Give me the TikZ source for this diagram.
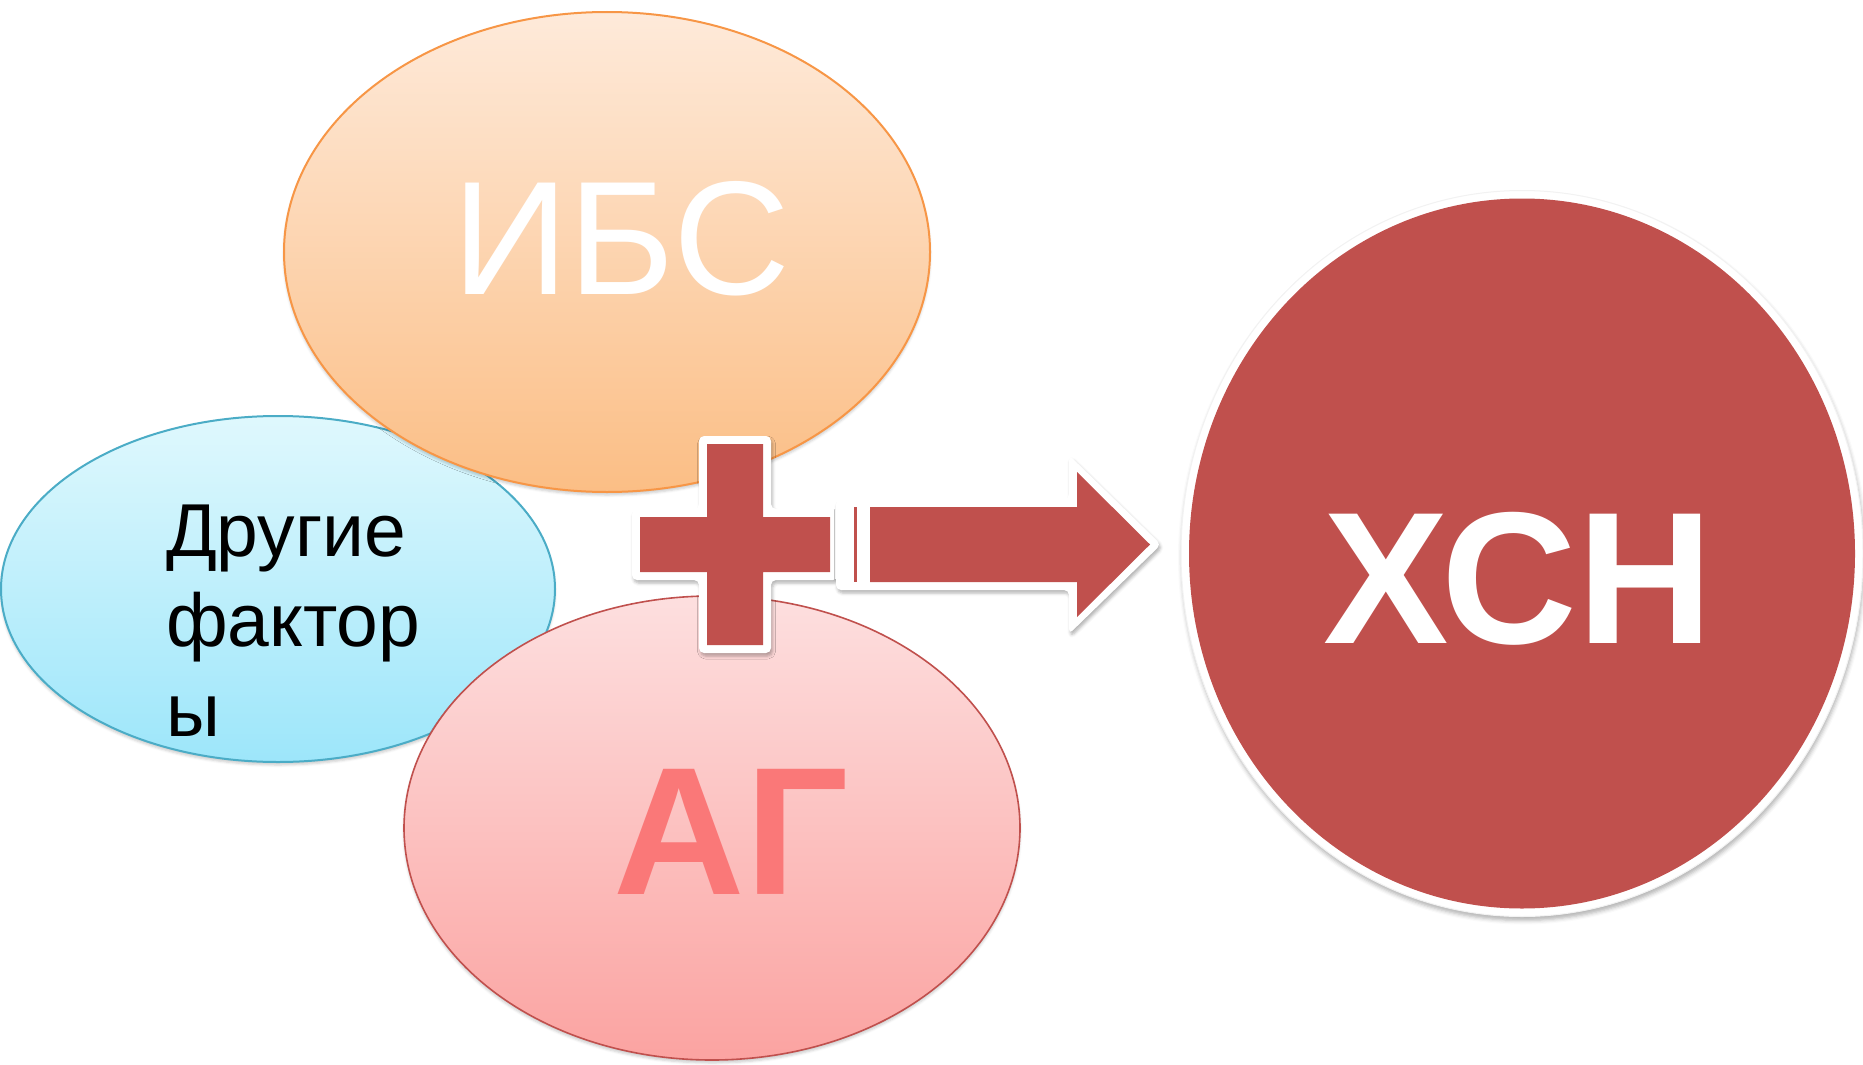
\documentclass[tikz,border=0pt]{standalone}
\usepackage{fontspec}
\setmainfont{Liberation Sans}
\usetikzlibrary{shapes.geometric,shadows.blur}

\definecolor{accent}{RGB}{192,80,77}
\definecolor{orangeedge}{RGB}{247,150,70}
\definecolor{orangetop}{RGB}{254,234,218}
\definecolor{orangebot}{RGB}{251,190,133}
\definecolor{blueedge}{RGB}{75,172,198}
\definecolor{bluetop}{RGB}{223,248,253}
\definecolor{bluebot}{RGB}{157,230,250}
\definecolor{pinkedge}{RGB}{192,80,77}
\definecolor{pinktop}{RGB}{253,223,223}
\definecolor{pinkbot}{RGB}{251,163,161}
\definecolor{agtext}{RGB}{250,120,120}

\tikzset{
  blob/.style={ellipse, inner sep=0pt, line width=2pt,
    blur shadow={shadow xshift=0pt, shadow yshift=-3pt,
      shadow blur radius=2.5pt, shadow opacity=20}},
  badge/.style={fill=white, rounded corners=5pt,
    blur shadow={shadow xshift=1.5pt, shadow yshift=-3pt,
      shadow blur radius=3pt, shadow opacity=30}},
  bigword/.style={anchor=base, inner sep=0pt},
  smallword/.style={anchor=base west, inner sep=0pt, font=\fontsize{75}{92}\selectfont},
}

\begin{document}
\begin{tikzpicture}[x=1pt,y=-1pt]
\useasboundingbox (0,0) rectangle (1863,1065);

% three risk factors
\node[blob, draw=blueedge, top color=bluetop, bottom color=bluebot,
      minimum width=554pt, minimum height=346pt] (other) at (278,589) {};
\node[blob, draw=orangeedge, top color=orangetop, bottom color=orangebot,
      minimum width=646pt, minimum height=480pt] (ibs) at (607,252) {};
\node[blob, draw=pinkedge, line width=1.6pt, top color=pinktop, bottom color=pinkbot,
      minimum width=616pt, minimum height=464pt] (ag) at (712,828) {};

% labels of the factors
\node[bigword, text=white, font=\fontsize{162}{162}\selectfont] (ibstext) at (621,294) {ИБС};
\node[smallword] (othertext1) at (166,556) {Другие};
\node[smallword] (othertext2) at (166,646) {фактор};
\node[smallword] (othertext3) at (166,736) {ы};
\node[bigword, text=agtext, font=\bfseries\fontsize{182}{182}\selectfont] (agtext) at (731,894) {АГ};

% plus sign
\path[badge] (699,436) -- (771,436) -- (771,509) -- (838,509) -- (838,580)
  -- (771,580) -- (771,653) -- (699,653) -- (699,580) -- (632,580)
  -- (632,509) -- (699,509) -- cycle;
\fill[accent] (707,444) -- (763,444) -- (763,517) -- (830,517) -- (830,572)
  -- (763,572) -- (763,645) -- (707,645) -- (707,572) -- (640,572)
  -- (640,517) -- (707,517) -- cycle;

% striped arrow
\path[badge] (836,499) -- (1069,499) -- (1069,455) -- (1161,544.5)
  -- (1069,634) -- (1069,590) -- (836,590) -- cycle;
\fill[accent] (854,507) rectangle (857,582);
\fill[accent] (870,507) -- (1077,507) -- (1077,472) -- (1150,544.5)
  -- (1077,617) -- (1077,582) -- (870,582) -- cycle;

% result
\node[ellipse, inner sep=0pt, fill=white, draw=black!5, line width=1pt,
      minimum width=682pt, minimum height=726pt,
      blur shadow={shadow xshift=1pt, shadow yshift=-4pt,
        shadow blur radius=4pt, shadow opacity=30}] (hfring) at (1522,553.5) {};
\node[ellipse, inner sep=0pt, fill=accent,
      minimum width=666pt, minimum height=710pt] (hf) at (1522,553.5) {};
\node[bigword, text=white, font=\bfseries\fontsize{188}{188}\selectfont] (hftext) at (1518,643) {ХСН};
\end{tikzpicture}
\end{document}
